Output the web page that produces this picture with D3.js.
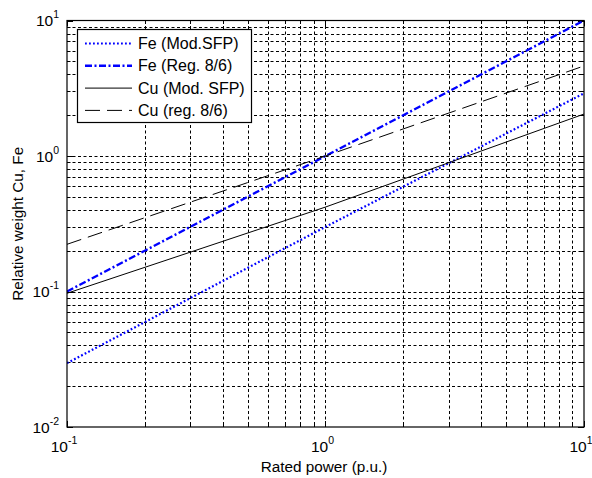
<!DOCTYPE html>
<html>
<head>
<meta charset="utf-8">
<script src="https://cdn.jsdelivr.net/npm/d3@7"></script>
<style>
  body { margin: 0; background: #fff; }
  svg { font-family: "Liberation Sans", Arial, sans-serif; }
</style>
</head>
<body>
<div id="chart"></div>
<script>
// valeurs (log-log)
const powerPu = [0.1, 1, 10];
const feModSfp = [0.0296, 0.3, 2.9];
const feReg86 = [0.1, 1, 10];
const cuModSfp = [0.097, 0.42, 2.04];
const cuReg86 = [0.223, 1.0, 4.62];

const seriesNames = ['Fe (Mod.SFP)', 'Fe (Reg. 8/6)', 'Cu (Mod. SFP)', 'Cu (reg. 8/6)'];
const xDecades = [0.1, 1, 10];
const yDecades = [0.01, 0.1, 1, 10];

const WIDTH = 592;
const HEIGHT = 478;
const LEFT = 67, RIGHT = 584, TOP = 20.5, BOTTOM = 427;

const svg = d3.select('#chart').append('svg').attr('width', WIDTH).attr('height', HEIGHT);

const x = d3.scaleLog().domain([0.1, 10]).range([LEFT, RIGHT]);
const y = d3.scaleLog().domain([0.01, 10]).range([BOTTOM, TOP]);

// styles des courbes
const styles = [
  { color: '#0000ff', width: 2.2, dash: '1.8,2.2' },
  { color: '#0000ff', width: 2.4, dash: '7,2.5,2,2.5' },
  { color: '#000', width: 1, dash: null },
  { color: '#000', width: 1, dash: '15,7' }
];
const series = [feModSfp, feReg86, cuModSfp, cuReg86];

// grille pointillée
const gridX = x.ticks().filter(v => v > 0.1 && v < 10);
const gridY = y.ticks().filter(v => v > 0.01 && v < 10);

const grid = svg.append('g').attr('stroke', '#000').attr('stroke-width', 1).attr('stroke-dasharray', '3,2.5');
grid.selectAll('.gx').data(gridX).enter().append('line')
  .attr('x1', d => Math.round(x(d)) + 0.5).attr('x2', d => Math.round(x(d)) + 0.5)
  .attr('y1', TOP).attr('y2', BOTTOM);
grid.selectAll('.gy').data(gridY).enter().append('line')
  .attr('y1', d => Math.round(y(d)) + 0.5).attr('y2', d => Math.round(y(d)) + 0.5)
  .attr('x1', LEFT).attr('x2', RIGHT);

// graduations (intérieures, sur les 4 côtés)
const isMajor = v => Math.abs(Math.log10(v) - Math.round(Math.log10(v))) < 1e-6;
const ticks = svg.append('g').attr('stroke', '#000').attr('stroke-width', 1);
const len = v => isMajor(v) ? 6 : 3.5;
x.ticks().forEach(v => {
  const px = Math.round(x(v)) + 0.5;
  ticks.append('line').attr('x1', px).attr('x2', px).attr('y1', BOTTOM).attr('y2', BOTTOM - len(v));
  ticks.append('line').attr('x1', px).attr('x2', px).attr('y1', TOP).attr('y2', TOP + len(v));
});
y.ticks().forEach(v => {
  const py = Math.round(y(v)) + 0.5;
  ticks.append('line').attr('y1', py).attr('y2', py).attr('x1', LEFT).attr('x2', LEFT + len(v));
  ticks.append('line').attr('y1', py).attr('y2', py).attr('x1', RIGHT).attr('x2', RIGHT - len(v));
});

// courbes
svg.append('clipPath').attr('id', 'clip').append('rect')
  .attr('x', LEFT).attr('y', TOP).attr('width', RIGHT - LEFT).attr('height', BOTTOM - TOP);

const line = d3.line().x((d, i) => x(powerPu[i])).y(d => y(d));
svg.append('g').attr('clip-path', 'url(#clip)')
  .selectAll('path')
  .data(series)
  .enter()
  .append('path')
  .attr('d', line)
  .attr('fill', 'none')
  .attr('stroke', (d, i) => styles[i].color)
  .attr('stroke-width', (d, i) => styles[i].width)
  .attr('stroke-dasharray', (d, i) => styles[i].dash);

// cadre
svg.append('rect')
  .attr('x', LEFT).attr('y', TOP).attr('width', RIGHT - LEFT).attr('height', BOTTOM - TOP)
  .attr('fill', 'none').attr('stroke', '#000').attr('stroke-width', 1.2);

// étiquettes 10^n
const exp = v => Math.round(Math.log10(v));
const xl = svg.append('g').attr('font-size', 15.5).attr('fill', '#000');
xDecades.forEach(v => {
  const t = xl.append('text').attr('x', x(v) - 3).attr('y', 452).attr('text-anchor', 'middle');
  t.append('tspan').text('10');
  t.append('tspan').attr('dy', -8).attr('font-size', 10.5).text(exp(v));
});
yDecades.forEach(v => {
  const t = xl.append('text').attr('x', 59).attr('y', y(v) + 5.5).attr('text-anchor', 'end');
  t.append('tspan').text('10');
  t.append('tspan').attr('dy', -8).attr('font-size', 10.5).text(exp(v));
});

// titres des axes
svg.append('text').attr('x', 324).attr('y', 472).attr('text-anchor', 'middle')
  .attr('font-size', 15.3).text('Rated power (p.u.)');
svg.append('text').attr('transform', `translate(23, ${(TOP + BOTTOM) / 2}) rotate(-90)`)
  .attr('text-anchor', 'middle').attr('font-size', 15.3).text('Relative weight Cu, Fe');

// la légende
const legend = svg.append('g');
legend.append('rect').attr('x', 77.5).attr('y', 29.5).attr('width', 174).attr('height', 93)
  .attr('fill', '#fff').attr('stroke', '#000').attr('stroke-width', 1.2);

const ROW = 22.3;
legend.selectAll('line')
  .data(seriesNames)
  .enter()
  .append('line')
  .attr('x1', 85).attr('x2', 132)
  .attr('y1', (d, i) => 43.5 + i * ROW).attr('y2', (d, i) => 43.5 + i * ROW)
  .attr('stroke', (d, i) => styles[i].color)
  .attr('stroke-width', (d, i) => styles[i].width)
  .attr('stroke-dasharray', (d, i) => styles[i].dash);

legend.selectAll('text')
  .data(seriesNames)
  .enter()
  .append('text')
  .attr('x', 138)
  .attr('y', (d, i) => 49 + i * ROW)
  .attr('font-size', 16)
  .text(d => d);
</script>
</body>
</html>
